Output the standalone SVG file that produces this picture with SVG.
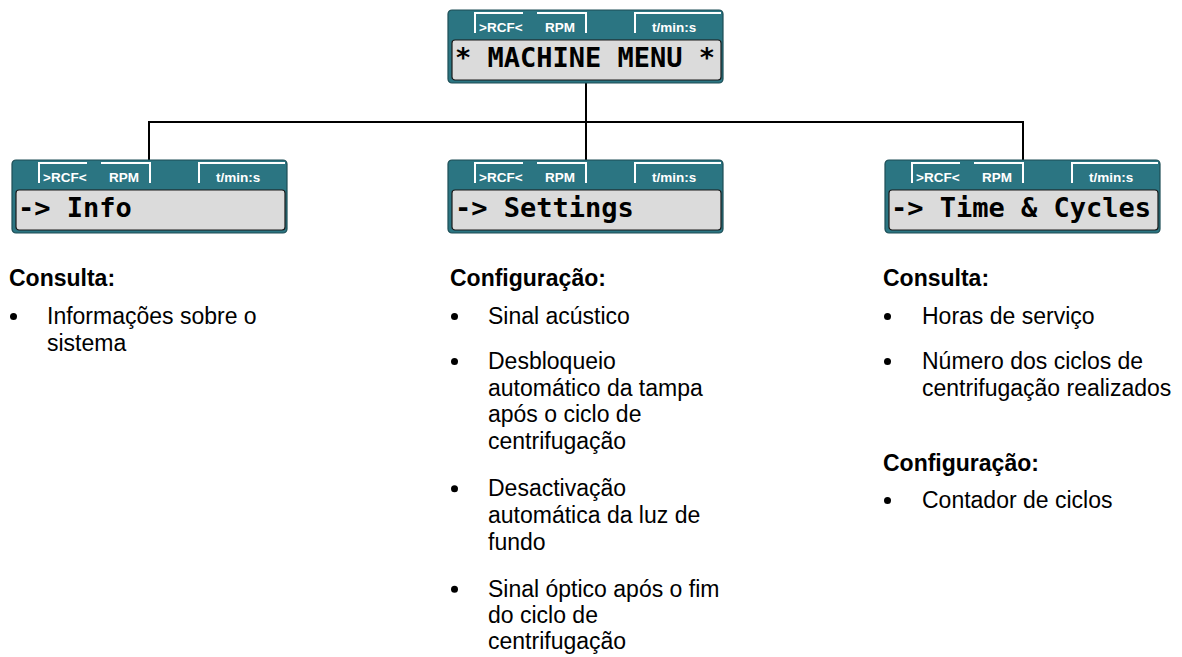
<svg xmlns="http://www.w3.org/2000/svg" xmlns:xlink="http://www.w3.org/1999/xlink" width="1182" height="657" viewBox="0 0 1182 657">
<style>
.outer{fill:#2b7582;stroke:#1d4d55;stroke-width:1.2}
.lcdbg{fill:#dbdbdb;stroke:#1a1a1a;stroke-width:1.2}
.tab{fill:none;stroke:#ffffff;stroke-width:2}
.tabt{font-family:"Liberation Sans",Arial,sans-serif;font-weight:bold;font-size:13.5px;fill:#ffffff}
.lcdt{font-family:"DejaVu Sans Mono","Liberation Mono",monospace;font-weight:bold;font-size:27px;fill:#000000}
.conn{fill:none;stroke:#000000;stroke-width:2}
.h{font-family:"Liberation Sans",Arial,sans-serif;font-weight:bold;font-size:23px;fill:#000000}
.b{font-family:"Liberation Sans",Arial,sans-serif;font-size:23px;fill:#000000}
.dot{fill:#000000}
</style>
<defs>
<g id="panel">
<rect class="outer" x="0" y="0" width="275" height="73" rx="4"/>
<rect class="lcdbg" x="4" y="30" width="269" height="40" rx="3"/>
<path class="tab" d="M27,23 V3 H75"/>
<path class="tab" d="M89,3 H138 V23"/>
<path class="tab" d="M187,23 V3 H273"/>
<text class="tabt" x="31" y="22">&gt;RCF&lt;</text>
<text class="tabt" x="97" y="22">RPM</text>
<text class="tabt" x="204" y="22">t/min:s</text>
</g>
</defs>

<g id="connectors">
<path class="conn" d="M586,83 V122"/>
<path class="conn" d="M149,122 H1023"/>
<path class="conn" d="M149,121 V160"/>
<path class="conn" d="M586,121 V160"/>
<path class="conn" d="M1023,121 V160"/>
</g>

<g id="node-machine-menu">
<use xlink:href="#panel" x="448" y="10"/>
<text class="lcdt" x="455" y="67">* MACHINE MENU *</text>
</g>

<g id="node-info">
<use xlink:href="#panel" x="12" y="160"/>
<text class="lcdt" x="18" y="217">-&gt; Info</text>
</g>

<g id="node-settings">
<use xlink:href="#panel" x="448" y="160"/>
<text class="lcdt" x="455" y="217">-&gt; Settings</text>
</g>

<g id="node-time-cycles">
<use xlink:href="#panel" x="885" y="160"/>
<text class="lcdt" x="891" y="217">-&gt; Time &amp; Cycles</text>
</g>

<g id="text-info">
<text class="h" x="9" y="286">Consulta:</text>
<circle class="dot" cx="13.5" cy="316.5" r="3.5"/>
<text class="b" x="47" y="324">Informações sobre o</text>
<text class="b" x="47" y="350.5">sistema</text>
</g>

<g id="text-settings">
<text class="h" x="450" y="286">Configuração:</text>
<circle class="dot" cx="454.5" cy="316.5" r="3.5"/>
<text class="b" x="488" y="324">Sinal acústico</text>
<circle class="dot" cx="454.5" cy="361.5" r="3.5"/>
<text class="b" x="488" y="369">Desbloqueio</text>
<text class="b" x="488" y="395.7">automático da tampa</text>
<text class="b" x="488" y="422.4">após o ciclo de</text>
<text class="b" x="488" y="449.1">centrifugação</text>
<circle class="dot" cx="454.5" cy="488.8" r="3.5"/>
<text class="b" x="488" y="496.3">Desactivação</text>
<text class="b" x="488" y="523">automática da luz de</text>
<text class="b" x="488" y="549.7">fundo</text>
<circle class="dot" cx="454.5" cy="589.2" r="3.5"/>
<text class="b" x="488" y="596.7">Sinal óptico após o fim</text>
<text class="b" x="488" y="623">do ciclo de</text>
<text class="b" x="488" y="649">centrifugação</text>
</g>

<g id="text-time-cycles">
<text class="h" x="883" y="286">Consulta:</text>
<circle class="dot" cx="887.5" cy="316.5" r="3.5"/>
<text class="b" x="922" y="324">Horas de serviço</text>
<circle class="dot" cx="887.5" cy="361.5" r="3.5"/>
<text class="b" x="922" y="369">Número dos ciclos de</text>
<text class="b" x="922" y="395.5">centrifugação realizados</text>
<text class="h" x="883" y="470.5">Configuração:</text>
<circle class="dot" cx="887.5" cy="500.5" r="3.5"/>
<text class="b" x="922" y="508">Contador de ciclos</text>
</g>
</svg>
